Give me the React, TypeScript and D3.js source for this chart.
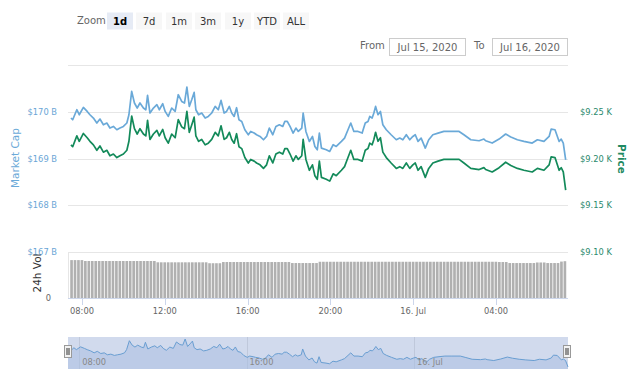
import React from "react";
import * as d3 from "d3";

// minutes after 07:00, Jul 15 2020
const times = [28,33,45,52,64,75,83,93,103,112,122,132,141,151,161,170,180,190,196,204,212,220,228,238,245,250,257,267,277,284,294,301,310,320,330,339,349,357,364,371,378,385,390,398,407,417,426,436,446,455,463,472,479,487,494,501,508,515,523,532,542,549,559,566,576,586,595,603,613,622,632,642,648,655,663,672,680,687,697,701,709,719,728,735,742,748,754,768,778,788,797,812,821,831,839,848,860,872,881,889,894,901,906,911,918,925,932,942,956,971,981,990,1000,1010,1019,1026,1034,1043,1055,1065,1077,1092,1109,1129,1153,1167,1187,1211,1225,1230,1249,1269,1288,1303,1322,1341,1365,1380,1399,1414,1420,1431,1443,1449,1455,1462];

// market cap, billions USD
const marketCap = [169.866,169.829,170.043,169.936,170.093,170.007,169.936,169.866,169.759,169.844,169.722,169.759,169.651,169.686,169.615,169.651,169.686,169.759,169.936,170.435,170.187,170.080,170.187,170.080,170.043,170.349,169.973,170.080,170.150,170.043,170.172,170.007,169.900,170.080,170.007,170.364,170.221,170.187,170.529,170.114,170.257,170.414,170.043,169.936,169.973,169.866,169.900,169.973,170.114,170.043,170.242,169.973,170.007,170.114,169.973,169.900,170.086,169.829,169.793,169.615,169.508,169.579,169.544,169.508,169.472,169.401,169.472,169.651,169.508,169.686,169.722,169.686,169.793,169.793,169.686,169.544,169.651,169.579,169.651,169.973,169.579,169.365,169.472,169.258,169.187,169.544,169.223,169.187,169.150,169.294,169.258,169.365,169.437,169.615,169.759,169.579,169.579,169.544,169.759,169.793,169.900,169.866,169.973,170.114,169.936,170.007,169.722,169.615,169.508,169.401,169.437,169.401,169.508,169.401,169.472,169.508,169.365,169.437,169.223,169.401,169.508,169.544,169.579,169.579,169.579,169.508,169.401,169.380,169.416,169.380,169.330,169.416,169.523,169.459,169.401,169.365,169.330,169.401,169.365,169.472,169.630,169.615,169.365,169.416,169.330,168.973];

// price, USD
const price = [9214.6,9212.6,9224.2,9218.4,9226.8,9222.2,9218.4,9214.6,9208.8,9213.4,9206.8,9208.8,9202.9,9204.8,9201.0,9202.9,9204.8,9208.8,9218.4,9245.4,9231.9,9226.2,9231.9,9226.2,9224.2,9240.8,9220.4,9226.2,9230.0,9224.2,9231.1,9222.2,9216.4,9226.2,9222.2,9241.6,9233.8,9231.9,9250.5,9228.0,9235.8,9244.2,9224.2,9218.4,9220.4,9214.6,9216.4,9220.4,9228.0,9224.2,9235.0,9220.4,9222.2,9228.0,9220.4,9216.4,9226.5,9212.6,9210.6,9201.0,9195.2,9199.0,9197.2,9195.2,9193.2,9189.4,9193.2,9202.9,9195.2,9204.8,9206.8,9204.8,9210.6,9210.6,9204.8,9197.2,9202.9,9199.0,9202.9,9220.4,9199.0,9187.4,9193.2,9181.6,9177.8,9197.2,9179.8,9177.8,9175.8,9183.6,9181.6,9187.4,9191.3,9201.0,9208.8,9199.0,9199.0,9197.2,9208.8,9210.6,9216.4,9214.6,9220.4,9228.0,9218.4,9222.2,9206.8,9201.0,9195.2,9189.4,9191.3,9189.4,9195.2,9189.4,9193.2,9195.2,9187.4,9191.3,9179.8,9189.4,9195.2,9197.2,9199.0,9199.0,9199.0,9195.2,9189.4,9188.2,9190.2,9188.2,9185.6,9190.2,9196.0,9192.5,9189.4,9187.4,9185.6,9189.4,9187.4,9193.2,9201.8,9201.0,9187.4,9190.2,9185.6,9166.2];

// 24h volume, billions USD, one bar every 10 minutes from 07:30
const volStart = 30;
const volStep = 10;
const volume = [
  20.6,20.6,20.6,20.6,
  20.1,20.1,20.1,20.1,20.1,20.1,20.1,20.1,20.1,20.1,20.1,20.1,20.1,20.1,20.1,20.1,20.1,20.1,20.1,20.1,20.1,
  19.4,19.4,19.4,19.4,19.4,19.4,19.4,19.4,19.4,19.4,19.4,19.4,19.4,19.4,19.4,
  18.9,18.9,18.9,18.9,
  19.55,19.55,19.55,19.55,19.55,19.55,19.55,19.55,19.55,19.55,19.55,19.55,19.55,19.55,19.55,19.55,19.55,19.55,19.55,19.55,
  19.0,19.0,19.0,19.0,19.0,19.0,19.0,19.0,
  19.7,19.7,19.7,19.7,19.7,19.7,19.7,19.7,19.7,19.7,19.7,19.7,19.7,19.7,19.7,19.7,19.7,19.7,19.7,19.7,19.7,19.7,19.7,19.7,19.7,19.7,
  19.7,19.7,19.7,19.7,19.7,19.7,19.7,19.7,19.7,19.7,19.7,19.7,19.7,19.7,19.7,19.7,19.7,19.7,19.7,19.7,19.7,19.7,19.7,19.7,19.7,19.7,
  19.55,19.55,19.55,
  19.0,19.0,19.0,19.0,19.0,19.0,19.0,19.0,
  19.3,19.3,19.3,
  19.0,19.0,19.0,19.0,
  19.8,20.0,
];

const capTicks = [170, 169, 168, 167];
const capLabels = ["$170 B", "$169 B", "$168 B", "$167 B"];
const priceTicks = [9250, 9200, 9150, 9100];
const priceLabels = ["$9.25 K", "$9.20 K", "$9.15 K", "$9.10 K"];
const gridTicks = [171, 170, 169, 168];
const xTicks = [60, 300, 540, 780, 1020, 1260];
const xLabels = ["08:00", "12:00", "16:00", "20:00", "16. Jul", "04:00"];
const navTicks = [60, 540, 1020];
const navLabels = ["08:00", "16:00", "16. Jul"];
const zoomButtons = ["1d", "7d", "1m", "3m", "1y", "YTD", "ALL"];
const fromDate = "Jul 15, 2020";
const toDate = "Jul 16, 2020";

const FONT = "DejaVu Sans, Verdana, sans-serif";
const BLUE = "#6aa9d8";
const GREEN = "#138a5a";

export default function App() {
  const L = 68, R = 568, TOP = 65, MID = 252, BOT = 298;
  const x = d3.scaleLinear().domain([19.4, 1468.7]).range([L, R]);
  const yCap = d3.scaleLinear().domain([167, 171]).range([MID, TOP]);
  const yPrice = d3.scaleLinear().domain([9100, 9300]).range([MID, TOP]);
  const yVol = d3.scaleLinear().domain([0, 25]).range([BOT, MID]);
  const xNav = d3.scaleLinear().domain([28, 1462]).range([L, R]);
  const yNav = d3.scaleLinear().domain([168.97, 170.53]).range([367, 339]);

  const n = Math.min(times.length, marketCap.length, price.length);
  const idx = d3.range(n);
  const capLine = d3.line<number>().x(i => x(times[i])).y(i => yCap(marketCap[i]))(idx) || "";
  const priceLine = d3.line<number>().x(i => x(times[i])).y(i => yPrice(price[i]))(idx) || "";
  const navArea = d3.area<number>().x(i => xNav(times[i])).y0(369).y1(i => yNav(marketCap[i]))(idx) || "";
  const navLine = d3.line<number>().x(i => xNav(times[i])).y(i => yNav(marketCap[i]))(idx) || "";

  const barW = x(volStep) - x(0);
  const btnX = [107, 136, 166, 195, 225, 254, 283];

  return (
    <svg width={640} height={380} style={{ position: "absolute", left: 0, top: 0, background: "#fff" }} fontFamily={FONT}>
      <defs>
        <clipPath id="plot"><rect x={L} y={TOP - 10} width={R - L} height={MID - TOP + 10} /></clipPath>
      </defs>

      {/* range selector */}
      <text x={77} y={24} fontSize={10} fill="#666">Zoom</text>
      {zoomButtons.map((b, i) => (
        <g key={b}>
          <rect x={btnX[i]} y={12.5} width={26} height={17} fill={i === 0 ? "#e6ebf5" : "#f7f7f7"} />
          <text x={btnX[i] + 13} y={24.5} fontSize={10} textAnchor="middle" fill={i === 0 ? "#000" : "#333"} fontWeight={i === 0 ? "bold" : "normal"}>{b}</text>
        </g>
      ))}
      <text x={360} y={49} fontSize={10} fill="#666">From</text>
      <rect x={389.5} y={38.5} width={76} height={17} fill="#fff" stroke="#ccc" />
      <text x={427.5} y={50.5} fontSize={10} fill="#666" textAnchor="middle">{fromDate}</text>
      <text x={474} y={49} fontSize={10} fill="#666">To</text>
      <rect x={492.5} y={38.5} width={75} height={17} fill="#fff" stroke="#ccc" />
      <text x={530} y={50.5} fontSize={10} fill="#666" textAnchor="middle">{toDate}</text>

      {/* grid */}
      {gridTicks.map(t => (
        <line key={t} x1={L} x2={R} y1={Math.round(yCap(t)) + 0.5} y2={Math.round(yCap(t)) + 0.5} stroke="#e6e6e6" />
      ))}
      <line x1={L} x2={R} y1={MID + 0.5} y2={MID + 0.5} stroke="#e6e6e6" />
      <line x1={L + 0.5} x2={L + 0.5} y1={MID} y2={BOT} stroke="#e6e6e6" />

      {/* left axis labels */}
      {capTicks.map((t, i) => (
        <text key={t} x={57} y={yCap(t) + 3} fontSize={8.3} fill="#6aa5d6" textAnchor="end">{capLabels[i]}</text>
      ))}
      <text x={51} y={BOT + 3} fontSize={8.3} fill="#666" textAnchor="end">0</text>
      {priceTicks.map((t, i) => (
        <text key={t} x={580} y={yPrice(t) + 3} fontSize={8.3} fill="#2b8a6e">{priceLabels[i]}</text>
      ))}

      {/* axis titles */}
      <text transform="translate(19,158) rotate(-90)" fontSize={10.5} fill="#6aa9d8" textAnchor="middle">Market Cap</text>
      <text transform="translate(618,159) rotate(90)" fontSize={10.5} fill="#1f8a62" fontWeight="bold" textAnchor="middle">Price</text>
      <text transform="translate(41,273) rotate(-90)" fontSize={10.5} fill="#333" textAnchor="middle">24h Vol</text>

      {/* volume bars */}
      {volume.map((v, i) => {
        const t = volStart + i * volStep;
        return (
          <rect key={i} x={x(t) - barW / 2 + 0.3} y={yVol(v)} width={barW - 0.8} height={BOT - yVol(v)} fill="#b0b0b0" />
        );
      })}
      <line x1={L} x2={R} y1={BOT + 0.5} y2={BOT + 0.5} stroke="#ccd6eb" />

      {/* lines */}
      <g clipPath="url(#plot)">
        <path d={priceLine} fill="none" stroke={GREEN} strokeWidth={1.7} strokeLinejoin="round" />
        <path d={capLine} fill="none" stroke={BLUE} strokeWidth={1.7} strokeLinejoin="round" />
      </g>

      {/* x axis */}
      {xTicks.map((t, i) => (
        <g key={t}>
          <line x1={Math.round(x(t)) + 0.5} x2={Math.round(x(t)) + 0.5} y1={BOT} y2={BOT + 7} stroke="#ccd6eb" />
          <text x={x(t)} y={314} fontSize={8.3} fill="#666" textAnchor="middle">{xLabels[i]}</text>
        </g>
      ))}

      {/* navigator */}
      <rect x={L} y={337} width={R - L} height={32} fill="#fff" />
      {navTicks.map(t => (
        <line key={t} x1={Math.round(xNav(t)) + 0.5} x2={Math.round(xNav(t)) + 0.5} y1={337} y2={369} stroke="#e6e6e6" />
      ))}
      <path d={navArea} fill="#c3d6ee" fillOpacity={0.5} />
      <path d={navLine} fill="none" stroke={BLUE} strokeWidth={1} />
      <rect x={L} y={337} width={R - L} height={32} fill="rgba(102,133,194,0.3)" />
      {navTicks.map((t, i) => (
        <text key={t} x={xNav(t) + 3} y={365} fontSize={8.3} fill="#888">{navLabels[i]}</text>
      ))}
      {[L, R - 1].map((hx, i) => (
        <g key={i}>
          <rect x={hx - 3.5} y={345.5} width={7} height={12} fill="#f2f2f2" stroke="#999" />
          <line x1={hx - 1} x2={hx - 1} y1={348} y2={355} stroke="#333" />
          <line x1={hx + 1} x2={hx + 1} y1={348} y2={355} stroke="#333" />
        </g>
      ))}
    </svg>
  );
}
